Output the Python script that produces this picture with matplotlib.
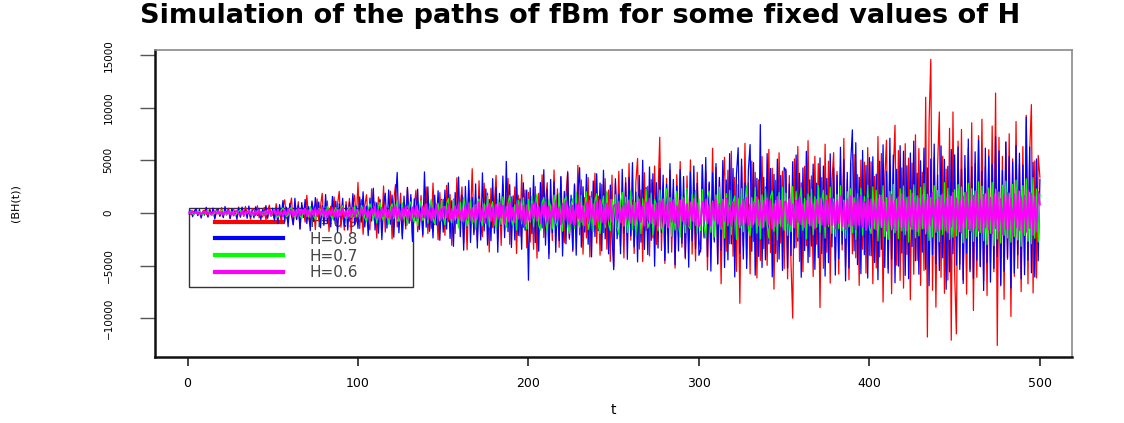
import numpy as np
import matplotlib
matplotlib.use("Agg")
import matplotlib.pyplot as plt
from matplotlib.lines import Line2D
from matplotlib.legend_handler import HandlerLine2D

t = np.arange(1, 501)

# H = 0.9
path_h09 = [
    80, -150, 210, -60, 310, -240, 120, -380, 170, 260,
    -90, -310, 420, -200, 150, -470, 330, 60, -280, 510,
    -360, 240, -130, 450, -520, 190, 380, -260, -110, 560,
    -430, 270, -340, 620, -180, 90, -590, 410, 300, -250,
    680, -470, 150, -390, 530, -660, 220, 740, -310, -120,
    -560, 880, -240, 410, -970, 620, 1250, -380, -810, 530,
    1420, -1130, 290, -640, 1060, -1510, 720, 190, -880, 1680,
    -420, -1270, 950, 360, -1590, 1330, -710, 560, 1870, -990,
    -310, 1140, -1760, 640, -470, 1520, -1190, 820, 2050, -1360,
    270, -1640, 1090, -560, 1380, -1950, 740, 1690, -830, 2900,
    -1480, 1260, -2040, 680, 1730, -950, -1610, 2280, -420, 1040,
    -2390, 1520, 830, -1270, 2560, -1820, 460, -980, 2060, -2470,
    1190, 2700, -1340, -640, 1880, -2150, 970, -1530, 2390, -870,
    1420, -2630, 610, 2150, -1790, -390, 1660, -2280, 1140, 2470,
    -1960, 820, -1470, 2840, -1120, 570, -2560, 1930, -760, 1310,
    -2130, 2620, -840, 1750, -3080, 1320, -1960, 3340, -1150, 690,
    2480, -2870, 1060, -3510, 2190, -610, 4200, -1830, 1470, -2640,
    3060, -1290, -2250, 2830, -970, 1880, -3720, 2350, -1410, 830,
    3570, -2460, 1240, -3090, 2710, -1760, 640, 3290, -2980, 1530,
    -1070, 2480, -3860, 1690, -2210, 3640, -1380, 2170, -3320, 1960,
    -2780, 1340, -3460, 2510, -4300, 1870, -1150, 3620, -2340, 960,
    2870, -3890, 1610, -2620, 4080, -1480, 2290, -3270, 3410, -1060,
    -2840, 1730, 3950, -2510, 1280, -3680, 2640, -1720, 4520, -2090,
    3140, -3920, 1460, -2380, 3370, -4180, 2020, -1340, 3780, -2860,
    1590, -4020, 2710, -1870, 3260, -3450, 2180, -4610, 3590, -5100,
    2840, -1780, 3960, -3120, 1540, -4280, 3350, -2060, 4710, -2590,
    1230, -3860, 2970, 5180, -3440, 2180, -4630, 3820, -1690, 2540,
    -4090, 3170, -2380, 4460, -3010, 1820, 7200, -3570, 2640, -4810,
    3290, -1960, 4070, -3730, 2290, -5250, 3640, -2180, 4890, -3260,
    1780, -4370, 3510, -2740, 5040, -3920, 2330, -4560, 3870, -2480,
    -3710, 4580, -2160, 3940, -5420, 2770, -3380, 6150, -2540, 4310,
    -4870, 3160, -6740, 2480, 5290, -3650, 4060, -2930, 5870, -4120,
    3380, -5560, 2690, -8600, 4470, -3180, 6620, -4350, 2840, -5790,
    4930, -2710, 3860, -6180, 3140, -4520, 5360, -3390, 2460, -4980,
    6040, -3760, 4250, -7250, 3090, -4640, 5720, -2880, 3970, -5310,
    4180, -6270, 3560, -4790, -10000, 5140, -3280, 6320, -4610, 2870,
    -5590, 4430, -3130, 6870, -4160, 3520, -6040, 5380, -2970, 4690,
    -9000, 3360, -5270, 6540, -3740, 4920, -6680, 2860, 5730, -4450,
    3940, -5810, 4370, -3520, 7080, -5120, 3180, -6350, 4760, -3890,
    5560, -4270, 3640, -6890, 5030, -3460, 4840, -5720, 6210, -4030,
    4860, -6730, 3470, -5240, 7260, -4180, 5650, -8470, 3190, 6910,
    -5290, 4560, -7680, 3820, 8340, -4970, 5930, -6420, 4280, -7150,
    6580, -3960, 5210, -8260, 4740, -5830, 7430, -4510, 6120, -6890,
    3870, -5470, 11000, -11800, 8670, 14600, -7350, 5260, -8960, 4480,
    9600, -6120, 5390, -7640, 4170, -6380, 8050, -12100, 9600, -5790,
    -11500, 6830, -4870, 7940, -6380, 4260, -7720, 6140, -5350, 8570,
    -9280, 4690, -6120, 7350, -5040, 8910, -6470, 4380, -7850, 6020,
    -4730, 8260, -5590, 11400, -12600, 7190, -6940, 5380, -8210, 6760,
    -4420, 7530, -9850, 5140, -6030, 8690, -5270, 4620, -7480, 6310,
    -5060, 9280, -6740, 5830, 10300, -7610, 4950, -6180, 5470, 3400,
]

# H = 0.8
path_h08 = [
    -110, 240, -360, 170, 420, -250, 330, -490, 120, -210,
    540, -400, 280, -150, 460, -590, 210, 370, -320, 130,
    -450, 610, -180, 350, -540, 400, -270, 190, -620, 480,
    -330, 560, -140, 290, -510, 660, -380, 220, -470, 590,
    -240, 430, -640, 310, -190, 700, -520, 360, -280, 450,
    -690, 480, -1020, 790, -330, 1180, -860, 540, -1310, 910,
    -260, -1120, 1390, -610, 750, -1540, 980, -440, 1280, -1010,
    600, -1690, 1130, -820, 1460, -370, 1040, -1420, 690, -1180,
    1750, -940, 420, -1330, 1570, -710, 1120, -1810, 860, -480,
    1390, -1250, 740, -1620, 1010, -560, 1830, -1100, 630, -1470,
    1520, -870, 2010, -1340, 640, -2160, 1410, -780, 2350, -1620,
    960, -1930, 1260, -2540, 720, 1880, -1440, 2190, -1070, 1700,
    -2310, 1180, 3850, -1890, 830, -2470, 1600, -1210, 2430, -990,
    1750, -2720, 1340, -760, 2260, -1580, 1030, -2090, 3900, -1360,
    2480, -1750, 920, -2380, 1690, -1140, 2110, -2600, 1270, -1830,
    2170, -1540, 2860, -2430, 1160, -3180, 1940, -1010, 3420, -2260,
    1690, -3550, 2520, -1370, 3090, -2810, 1480, -2070, 2760, -3340,
    1590, -2580, 3810, -1720, 2290, -3060, 1280, -2640, 3260, -1930,
    2410, -3740, 1860, -1190, 3510, -2350, 4900, -1780, 2690, -3290,
    1620, -2570, 3780, -2140, 1350, -3460, 2870, -1640, 2180, -6400,
    2380, -1970, 3560, -2830, 1540, -3640, 2890, -1430, 4110, -3070,
    2230, -4350, 3190, -1880, 2960, -3740, 1720, -2630, 3460, -4100,
    2050, -2940, 3810, -2370, 1690, -3530, 2760, -4020, 1950, 4300,
    -3260, 2490, -1820, 3670, -2980, 1610, -4180, 3040, -2250, 3720,
    -1690, 2840, -3610, 4060, -2470, 1930, -3890, 2650, -2140, -5400,
    3250, -2460, 1760, -3880, 4150, -1920, 2860, -4410, 3360, -2170,
    4780, -3230, 1990, -4660, 3570, -2780, 5010, -3470, 2420, -3960,
    4370, -2610, 3730, -5070, 2880, -3340, 4240, -1860, 3590, -4520,
    2740, -3810, 4690, -2290, 3180, -4950, 2570, -3620, 4120, -2880,
    3460, -4240, 2230, -5160, 3900, -2650, 4460, -3390, 2810, -4030,
    -3420, 4560, -2380, 5270, -4160, 2940, -5530, 3810, -2770, 4690,
    -4830, 3380, -3560, 4980, -5190, 3140, -4470, 5640, -2950, 4220,
    -6080, 3670, 6200, -3840, 5120, -4390, 2860, -5280, 4070, 6500,
    -3650, 4780, -5920, 3290, -4130, 8400, -5190, 3380, -4470, 5640,
    -2950, 4220, -6080, 3670, -3840, 5120, -4390, 3560, -5470, 4310,
    3980, -5260, 2760, -4050, 4870, -3340, 5510, -2690, 3770, -6120,
    4280, -3580, 5860, -4720, 3150, -3150, 4640, -5370, 2830, -4260,
    5230, -3870, 4460, -6010, 3290, -4730, 5620, -3240, 4280, -5910,
    3580, -4360, 6240, -2980, 5070, -6460, 3860, -5240, 4770, 7900,
    -3610, 6680, -4920, 3390, -5780, 5940, -3970, 4510, -6190, 5260,
    -4080, 5340, -4710, 3680, -6350, 4920, -3470, 6480, -5190, 3940,
    -5720, 7100, -4380, 5510, -6640, 4150, -5060, 6390, -3820, 5870,
    -5940, 4490, -6260, 5700, -3200, 6830, -4560, 3790, -5830, 4960,
    -3740, 6170, -5360, 4280, -6920, 5130, -3960, 6550, -4840, 3610,
    -5480, 6380, -4270, 5090, -7260, 4430, -5610, 6040, -3890, 5520,
    -4960, 6270, -5380, 4140, -6710, 5460, -3830, 7020, -5590, 4370,
    -6240, 5810, -4490, 6930, -5120, 3960, -7380, 6160, -4710, 5380,
    -6580, 4620, -5270, 7240, -4150, 5890, -6830, 4030, -5560, 6720,
    -4280, 5350, -7130, 4860, -5720, 6410, -3990, 5680, -6260, 4540,
    -5870, 9100, -4490, 6260, -5700, 4820, -6090, 5130, -4560, 3200,
]

# H = 0.7
path_h07 = [
    60, 110, -90, -160, 40, 170, 120, -60, -190, -80,
    130, 210, -40, -150, -230, 70, 180, -110, -60, 240,
    150, -130, -220, 50, 190, 90, -170, -250, -30, 160,
    260, 40, -200, -120, 110, 230, -70, -260, -140, 180,
    90, 280, -60, -210, 130, -170, 250, 60, -290, 110,
    340, -180, -420, -90, 260, 470, 130, -350, -210, 390,
    520, -160, -480, 70, 300, -260, -540, 180, 410, -120,
    -390, 590, 220, -300, -610, -140, 450, 330, -250, 160,
    -470, 630, 380, -200, -560, 90, 510, -340, -150, 420,
    680, -290, -530, 240, 560, -430, -80, 610, -370, 200,
    -560, 720, 310, -460, -830, 240, 870, 410, -690, 180,
    -950, 520, 1020, -340, -760, 630, -180, -1080, 460, 890,
    -520, 270, 1140, -810, -390, 960, -640, 150, -1160, 730,
    1050, -290, -880, 560, -1230, 380, 1170, -710, -450, 840,
    -970, 620, 1280, -530, -1040, 290, 910, -760, 1190, -360,
    -1120, 860, 1380, -470, -940, 1220, -680, 320, -1430, 1040,
    -790, 1490, 560, -1270, -390, 1150, -1010, 740, -1560, 980,
    1320, -620, -1190, 880, -450, 1610, -1340, 530, 1070, -880,
    -1470, 1260, 410, -1090, 1530, -730, -1380, 950, 1680, -540,
    -1200, 780, -1630, 1190, 620, -1040, 1450, -870, -1520, 1290,
    -860, 1570, -1340, 690, 1790, -1120, -1640, 980, 1460, -730,
    -1850, 1260, 560, -1510, 1700, -940, -1290, 1880, -620, -1730,
    1140, 1560, -1060, -1940, 820, 1350, -1480, 1920, -760, -1360,
    1680, -1150, 490, 2010, -1590, -880, 1420, -1770, 1090, 1830,
    -1230, -1960, 740, 1610, -1420, 2070, -990, -1690, 1270, -560,
    1730, -1380, -2060, 890, 1950, -1240, 1510, -1860, -670, 2110,
    -1590, 1070, -2180, 1620, 810, -1970, 1340, -1130, 2240, -1450,
    -920, 1890, -2070, 1280, 690, -1720, 2180, -1360, -1840, 1050,
    2290, -1190, 1460, -2230, 950, -1610, 2060, -1020, -2310, 1570,
    1170, -1890, 2350, -1260, -1550, 1780, -880, 2120, -1960, 1340,
    -1670, 2230, -1180, -2410, 1490, 2070, -1840, 1130, -2290, 1720,
    -970, 2460, -1560, 1290, -2380, 1840, -1230, 2160, -2050, 990,
    1620, -2520, 1380, -1410, 2310, -1790, 1060, 2590, -1520, -2170,
    1470, -1080, 2420, -1930, 1250, -2480, 1710, -1360, 2280, -1150,
    -2390, 1560, 2080, -1740, 1180, -2560, 1930, -1270, 2450, -1620,
    1880, -2140, 1230, -1760, 2510, -1390, 2030, -2330, 1160, 2400,
    -1650, 1420, -2470, 1790, -1210, 2270, -2080, 1540, -1370, 2610,
    -1840, 1120, 2150, -2390, 1680, -1290, 2470, -1950, 1340, -2240,
    1760, -1480, 2580, -1690, 1210, -2410, 2020, -1320, 2290, -1870,
    1450, -2530, 1830, -1170, 2360, -2120, 1580, -1640, 2640, -1430,
    -1960, 2480, -1520, 2150, -2670, 1730, -1390, 2590, -2230, 1460,
    -2510, 2040, -1610, 2720, -1880, 1350, -2440, 2310, -1720, 2560,
    -2090, 1490, -2780, 2210, -1570, 2670, -2360, 1640, -2180, 2440,
    -1530, 2800, -2010, 1780, -2620, 1470, -2290, 2590, -1840, 2130,
    -2740, 1690, -2050, 2880, -1710, 2360, -2520, 1580, -2310, 2210,
    -2180, 2690, -1790, 2470, -2850, 1950, -2390, 2820, -1680, 2310,
    -2710, 2080, -2230, 2960, -1860, 2540, -2640, 1820, -3010, 2370,
    -1940, 2890, -3100, 2260, -2480, 1980, -2870, 2640, -2120, 3030,
    -2370, 1890, -2780, 2710, -2250, 3120, -2560, 2040, -3180, 2590,
    -2150, 3240, -2690, 1960, -2930, 3350, -2410, 2280, -2760, 1800,
]

# H = 0.6
path_h06 = [
    30, -80, 110, -50, 140, -100, 60, -150, 90, -30,
    170, -120, 70, -160, 50, 180, -90, 200, -130, 80,
    -180, 140, -70, 210, -150, 100, -200, 60, 230, -120,
    -90, 190, -240, 130, -60, 250, -170, 110, -220, 160,
    -130, 270, -190, 80, -250, 210, -140, 290, -200, 120,
    230, -180, 300, -250, 120, -320, 260, -200, 370, -150,
    290, -350, 180, -280, 400, -230, 330, -120, 420, -310,
    210, -380, 280, -240, 450, -290, 360, -170, 470, -340,
    250, -420, 310, -200, 490, -370, 270, -450, 340, -260,
    510, -330, 190, -470, 380, -280, 530, -400, 300, -220,
    -330, 460, -220, 540, -400, 290, -560, 420, -180, 620,
    -470, 310, -650, 500, -280, 690, -440, 240, -580, 530,
    -350, 730, -510, 390, -640, 460, -290, 700, -560, 380,
    -720, 540, -310, 680, -490, 260, -750, 610, -420, 790,
    -580, 350, -700, 470, -360, 810, -530, 420, -660, 570,
    590, -430, 740, -610, 360, -780, 640, -470, 860, -680,
    440, -820, 700, -540, 920, -640, 480, -870, 780, -580,
    1050, -730, 510, -940, 690, -520, 880, -760, 430, -990,
    810, -600, 950, -470, 720, -1020, 580, -830, 1070, -690,
    520, -910, 840, -560, 1000, -780, 660, -1080, 750, -620,
    -680, 840, -490, 1010, -760, 570, -950, 690, -440, 1060,
    -820, 630, -1030, 760, -560, 1120, -700, 510, -1080, 870,
    -620, 1150, -820, 610, -980, 730, -1160, 880, -540, 1040,
    -890, 660, -1210, 950, -710, 1180, -600, 830, -1100, 990,
    -750, 1240, -930, 580, -1050, 920, -680, 1270, -870, 700,
    810, -650, 1090, -890, 570, -1130, 880, -620, 1200, -950,
    690, -1170, 960, -750, 1290, -860, 620, -1230, 1020, -720,
    1350, -980, 770, -1100, 910, -1260, 1140, -680, 1320, -1010,
    740, -1380, 1060, -830, 1230, -940, 660, -1310, 1190, -790,
    1400, -1080, 850, -1200, 1010, -760, 1360, -1150, 930, -1290,
    -830, 1080, -710, 1260, -1000, 770, -1220, 980, -650, 1320,
    -1040, 830, -1290, 1120, -760, 1380, -960, 720, -1240, 1040,
    -800, 1410, -1090, 870, -1170, 1280, -940, 1460, -1130, 790,
    -1350, 1060, -880, 1500, -1210, 940, -1420, 1170, -750, 1390,
    -1060, 1240, -1480, 860, -1290, 1530, -1010, 1150, -1380, 980,
    1100, -940, 1320, -1160, 820, -1390, 1180, -880, 1470, -1100,
    860, -1360, 1140, -990, 1510, -1210, 900, -1440, 1250, -960,
    1410, -1140, 880, -1320, 1190, -1050, 1360, -1190, 1010, -1470,
    1230, -920, 1570, -1260, 990, -1510, 1300, -1010, 1610, -1200,
    950, -1540, 1340, -1090, 1670, -1300, 1050, -1590, 1390, -1130,
    1270, -1430, 1100, -1580, 1360, -1150, 1660, -1330, 1040, -1680,
    1420, -1200, 1730, -1470, 1150, -1620, 1480, -1250, 1790, -1400,
    1190, -1660, 1530, -1280, 1840, -1510, 1120, -1740, 1390, -1310,
    1680, -1450, 1230, -1810, 1570, -1180, 1890, -1360, 1260, -1700,
    1460, -1540, 1770, -1220, 1350, -1860, 1610, -1290, 1930, -1480,
    1370, -1620, 1240, -1890, 1560, -1330, 1950, -1510, 1180, -1780,
    1640, -1410, 2010, -1690, 1290, -1850, 1720, -1360, 2080, -1580,
    1430, -1940, 1810, -1470, 2120, -1730, 1320, -2010, 1680, -1520,
    1890, -1600, 1400, -2070, 1760, -1380, 2150, -1650, 1500, -1910,
    1620, -1800, 2200, -1440, 1850, -2100, 1560, -1700, 2000, 800,
]

labels = ["H=0.9", "H=0.8", "H=0.7", "H=0.6"]
colors = ["#ff0000", "#0000ff", "#00ff00", "#ff00ff"]
widths = [0.9, 0.9, 0.9, 1.3]

xticks = [0, 100, 200, 300, 400, 500]
yticks = [-10000, -5000, 0, 5000, 10000, 15000]

fig = plt.figure(figsize=(11.24, 4.23), dpi=100)
ax = fig.add_axes([0.138, 0.156, 0.816, 0.726])

for y, c, lw in zip([path_h09, path_h08, path_h07, path_h06], colors, widths):
    ax.plot(t, y, color=c, lw=lw, zorder=3)

ax.set_xlim(-19, 519)
ax.set_ylim(-13700, 15500)
ax.set_xticks(xticks)
ax.set_yticks(yticks)
ax.tick_params(axis="x", direction="out", length=6.5, width=1.2, pad=8, labelsize=9, color="#222222")
ax.tick_params(axis="y", direction="out", length=11, width=1.0, pad=19, labelsize=7.5, color="#555555")
for lab in ax.get_yticklabels():
    lab.set_rotation(90)
    lab.set_va("center")

for side in ["left", "bottom"]:
    ax.spines[side].set_linewidth(1.8)
    ax.spines[side].set_color("#111111")
for side in ["top", "right"]:
    ax.spines[side].set_linewidth(1.2)
    ax.spines[side].set_color("#8a8a8a")

ax.set_xlabel("t", fontsize=10, labelpad=9)
ax.set_ylabel("(BH(t))", fontsize=8)
ax.yaxis.set_label_coords(-0.147, 0.5)

fig.text(0.516, 0.962, "Simulation of the paths of fBm for some fixed values of H",
         ha="center", va="center", fontsize=19.5, fontweight="bold")

# legend sits underneath the paths; handles start a little in from the frame
handles = [Line2D([], [], color=c, lw=3) for c in colors]
leg = ax.legend(handles, labels, loc="upper left", bbox_to_anchor=(0.0371, 0.2253, 0.2443, 0.26),
                mode="expand", borderaxespad=0, fontsize=11, handlelength=5.7, handletextpad=1.75,
                labelspacing=0.12, borderpad=0.45, fancybox=False, framealpha=1,
                edgecolor="#333333", frameon=True,
                handler_map={Line2D: HandlerLine2D(xpad=1.25)})
for txt in leg.get_texts():
    txt.set_color("#444444")
leg.get_frame().set_linewidth(1.0)
leg.set_zorder(1)

fig.savefig("out.png", dpi=100)
